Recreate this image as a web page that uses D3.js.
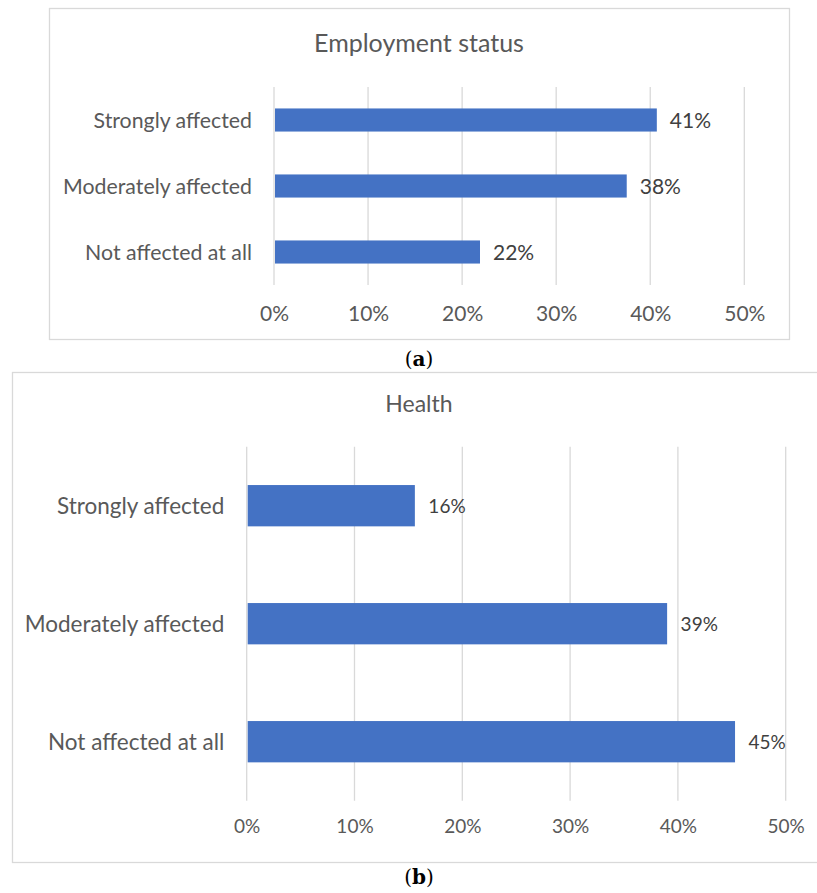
<!DOCTYPE html>
<html>
<head>
<meta charset="utf-8">
<script src="https://cdn.jsdelivr.net/npm/d3@7"></script>
<style>
  html, body { margin: 0; padding: 0; background: #ffffff; }
  svg { display: block; }
</style>
</head>
<body>
<svg id="chart" width="817" height="893"></svg>
<script>
// ---- Data ----
const categories = ["Strongly affected", "Moderately affected", "Not affected at all"];
const employmentValues = [0.407, 0.375, 0.219];
const employmentLabels = ["41%", "38%", "22%"];
const healthValues = [0.156, 0.390, 0.453];
const healthLabels = ["16%", "39%", "45%"];
const tickValues = [0, 0.1, 0.2, 0.3, 0.4, 0.5];
const tickLabels = ["0%", "10%", "20%", "30%", "40%", "50%"];
const panelTitles = ["Employment status", "Health"];
const panelCaptions = ["a", "b"];

const svg = d3.select("#chart");
const FONT = "Lato, 'Open Sans', sans-serif";
const TEXT = "#595959";
const BAR = "#4472C4";
const GRID = "#d9d9d9";

function drawPanel(cfg) {
  const g = svg.append("g");
  // frame
  g.append("rect")
    .attr("x", cfg.box[0] + 0.5).attr("y", cfg.box[1] + 0.5)
    .attr("width", cfg.box[2] - cfg.box[0]).attr("height", cfg.box[3] - cfg.box[1])
    .attr("fill", "#fff").attr("stroke", GRID).attr("stroke-width", 1.3);

  const x = d3.scaleLinear().domain([0, 0.5]).range(cfg.xr);
  const y = d3.scaleBand().domain(categories).range(cfg.yr).paddingInner(0.65).paddingOuter(0.325);

  // title
  g.append("text")
    .attr("x", cfg.titleX).attr("y", cfg.titleY)
    .attr("text-anchor", "middle")
    .attr("font-family", FONT).attr("font-size", cfg.titleSize)
    .attr("fill", TEXT).text(cfg.title);

  // gridlines
  g.selectAll("line.grid").data(tickValues).join("line")
    .attr("class", "grid")
    .attr("x1", d => x(d)).attr("x2", d => x(d))
    .attr("y1", cfg.yr[0]).attr("y2", cfg.yr[1])
    .attr("stroke", GRID).attr("stroke-width", 1.3);

  // x axis labels
  const axis = d3.axisBottom(x).tickValues(tickValues)
    .tickFormat((d, i) => tickLabels[i]).tickSize(0).tickPadding(0);
  const ax = g.append("g").attr("transform", `translate(0,${cfg.tickY})`).call(axis);
  ax.select(".domain").remove();
  ax.selectAll("text")
    .attr("font-family", FONT).attr("font-size", cfg.tickSize)
    .attr("fill", TEXT).attr("dy", 0);

  // y axis labels
  const yax = d3.axisLeft(y).tickSize(0).tickPadding(0);
  const ya = g.append("g").attr("transform", `translate(${cfg.catX},0)`).call(yax);
  ya.select(".domain").remove();
  ya.selectAll("text")
    .attr("font-family", FONT).attr("font-size", cfg.catSize)
    .attr("fill", TEXT).attr("dy", "0.36em");

  // bars
  g.selectAll("rect.bar").data(cfg.values).join("rect")
    .attr("class", "bar")
    .attr("x", x(0) + 1)
    .attr("y", (d, i) => y(categories[i]))
    .attr("width", d => x(d) - x(0) - 1)
    .attr("height", y.bandwidth())
    .attr("fill", BAR);

  // data labels
  g.selectAll("text.val").data(cfg.values).join("text")
    .attr("class", "val")
    .attr("x", d => x(d) + cfg.valGap)
    .attr("y", (d, i) => y(categories[i]) + y.bandwidth() / 2)
    .attr("dy", "0.36em")
    .attr("font-family", FONT).attr("font-size", cfg.valSize)
    .attr("fill", "#404040")
    .text((d, i) => cfg.labels[i]);

  // caption (a)/(b)
  const cap = svg.append("text")
    .attr("x", cfg.capX).attr("y", cfg.capY)
    .attr("text-anchor", "middle")
    .attr("font-family", "'DejaVu Serif', 'Liberation Serif', serif")
    .attr("font-size", 20).attr("fill", "#000");
  cap.append("tspan").text("(");
  cap.append("tspan").attr("font-weight", "bold").text(cfg.caption);
  cap.append("tspan").text(")");
}

drawPanel({
  box: [49, 8, 789, 339],
  xr: [274, 744.3],
  yr: [87, 285],
  title: panelTitles[0], titleX: 419, titleY: 52, titleSize: 25,
  tickY: 321, tickSize: 21,
  catX: 252, catSize: 21.3,
  values: employmentValues, labels: employmentLabels, valGap: 13, valSize: 21,
  caption: panelCaptions[0], capX: 419, capY: 366
});

drawPanel({
  box: [12, 372, 830, 862],
  xr: [246.7, 785.7],
  yr: [446.7, 800.7],
  title: panelTitles[1], titleX: 419, titleY: 412, titleSize: 23,
  tickY: 833, tickSize: 19,
  catX: 224.3, catSize: 22.5,
  values: healthValues, labels: healthLabels, valGap: 13.5, valSize: 19,
  caption: panelCaptions[1], capX: 419, capY: 884
});
</script>
</body>
</html>
